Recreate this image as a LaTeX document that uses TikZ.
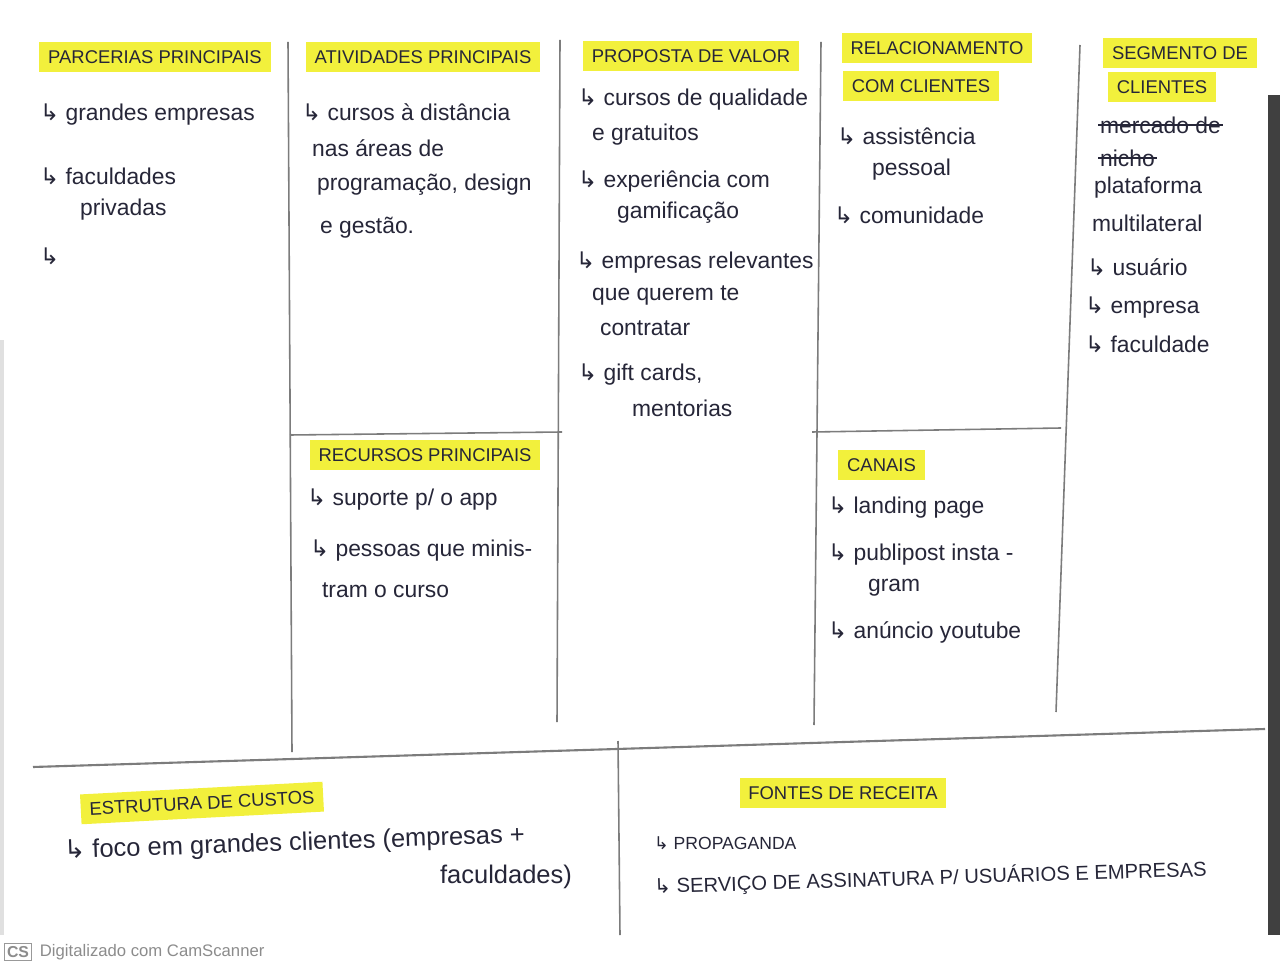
\documentclass[tikz,border=0pt]{standalone}
\usepackage{fontspec}
\setmainfont{Liberation Sans}
\newfontfamily\arrowfont{DejaVu Sans}
\usetikzlibrary{positioning}
\definecolor{marker}{HTML}{F2F03C}
\definecolor{ink}{HTML}{262638}
\definecolor{pencil}{HTML}{7C7C7C}
\newcommand\hook{{\arrowfont ↳}\ }
\begin{document}
\begin{tikzpicture}[x=0.02cm, y=-0.02cm,
		head/.style={fill=marker, text=ink, font=\fontsize{10.5}{12}\selectfont, inner xsep=5pt, minimum height=17pt},
		item/.style={anchor=west, text=ink, font=\fontsize{13}{15}\selectfont, inner sep=1pt},
		pencilLine/.style={draw=pencil, line width=0.9pt}]

		% paper and frame of the picture
		\useasboundingbox (0,0) rectangle (1280,972);
		\fill[white] (0,0) rectangle (1280,972);
		\fill[black!75] (1268,95) rectangle (1280,935);
		\fill[black!12] (0,340) rectangle (4,935);

		% create grid coordinates - columns of the canvas
		\coordinate (top1) at (288,42);  \coordinate (bot1) at (292,752);
		\coordinate (top2) at (560,40);  \coordinate (bot2) at (557,722);
		\coordinate (top3) at (821,42);  \coordinate (bot3) at (814,725);
		\coordinate (top4) at (1080,45); \coordinate (bot4) at (1056,712);

		% draw the vertical columns
		\foreach \col in {1,...,4}
		{
			\draw[pencilLine] (top\col) -- (bot\col);
		}

		% split lines for recursos and canais
		\draw[pencilLine] (290,435) -- (562,432);
		\draw[pencilLine] (812,432) -- (1061,428);

		% bottom row
		\coordinate (rowL) at (33,767);
		\coordinate (rowR) at (1265,729);
		\draw[pencilLine, line width=1.2pt] (rowL) -- (rowR);
		\draw[pencilLine] (618,741) -- (620,935);

		% headings
		\node[head] (parcerias) at (155,57) {PARCERIAS PRINCIPAIS};
		\node[head] (atividades) at (423,57) {ATIVIDADES PRINCIPAIS};
		\node[head] (proposta) at (691,56) {PROPOSTA DE VALOR};
		\node[head] (relacao) at (937,48) {RELACIONAMENTO};
		\node[head] (relacaoB) at (921,86) {COM CLIENTES};
		\node[head] (segmento) at (1180,53) {SEGMENTO DE};
		\node[head] (segmentoB) at (1162,87) {CLIENTES};
		\node[head] (recursos) at (425,455) {RECURSOS PRINCIPAIS};
		\node[head, anchor=west] (canais) at (838,465) {CANAIS\hspace{19pt}};
		\node[head, rotate=3] (custos) at (202,803) {ESTRUTURA DE CUSTOS};
		\node[head] (receita) at (843,793) {FONTES DE RECEITA};

		% parcerias principais
		\node[item] (parc1) at (38,115) {\hook grandes empresas};
		\node[item] (parc2) at (38,176) {\hook faculdades};
		\node[item] (parc2b) at (78,210) {privadas};
		\node[item] (parc3) at (38,256) {\hook};

		% atividades principais
		\node[item] (ativ1) at (300,112) {\hook cursos à distância};
		\node[item] (ativ1b) at (310,148) {nas áreas de};
		\node[item] (ativ1c) at (315,185) {programação, design};
		\node[item] (ativ1d) at (318,228) {e gestão.};

		% proposta de valor
		\node[item] (prop1) at (576,100) {\hook cursos de qualidade};
		\node[item] (prop1b) at (590,135) {e gratuitos};
		\node[item] (prop2) at (576,182) {\hook experiência com};
		\node[item] (prop2b) at (615,213) {gamificação};
		\node[item] (prop3) at (574,263) {\hook empresas relevantes};
		\node[item] (prop3b) at (590,295) {que querem te};
		\node[item] (prop3c) at (598,328) {contratar};
		\node[item] (prop4) at (576,375) {\hook gift cards,};
		\node[item] (prop4b) at (630,408) {mentorias};

		% relacionamento com clientes
		\node[item] (rel1) at (835,136) {\hook assistência};
		\node[item] (rel1b) at (870,170) {pessoal};
		\node[item] (rel2) at (832,215) {\hook comunidade};

		% segmento de clientes
		\node[item] (mercado) at (1098,125) {mercado de};
		\node[item] (nicho) at (1098,158) {nicho};
		\draw[ink, thick] (mercado.west) -- (mercado.east);
		\draw[ink, thick] (nicho.west) -- (nicho.east);
		\node[item] (seg1) at (1092,188) {plataforma};
		\node[item] (seg1b) at (1090,223) {multilateral};
		\node[item] (seg2) at (1085,267) {\hook usuário};
		\node[item] (seg3) at (1083,308) {\hook empresa};
		\node[item] (seg4) at (1083,344) {\hook faculdade};

		% recursos principais
		\node[item] (rec1) at (305,500) {\hook suporte p/ o app};
		\node[item] (rec2) at (308,551) {\hook pessoas que minis-};
		\node[item] (rec2b) at (320,590) {tram o curso};

		% canais
		\node[item] (can1) at (826,508) {\hook landing page};
		\node[item] (can2) at (826,555) {\hook publipost insta -};
		\node[item] (can2b) at (866,588) {gram};
		\node[item] (can3) at (826,632) {\hook anúncio youtube};

		% estrutura de custos
		\node[item, font=\fontsize{14.5}{16}\selectfont, rotate=2] (cus1) at (62,852) {\hook foco em grandes clientes (empresas +};
		\node[item, font=\fontsize{14.5}{16}\selectfont] (cus1b) at (438,877) {faculdades)};

		% fontes de receita
		\node[item, font=\fontsize{10}{12}\selectfont] (rec3) at (652,843) {\hook PROPAGANDA};
		\node[item, font=\fontsize{11.5}{13}\selectfont, rotate=1.8] (rec4) at (652,887) {\hook SERVIÇO DE ASSINATURA P/ USUÁRIOS E EMPRESAS};

		% scanner watermark
		\node[draw=black!40, text=black!45, font=\fontsize{9}{10}\selectfont\bfseries, inner sep=1.5pt] (csLogo) at (18,952) {CS};
		\node[right=1pt of csLogo, text=black!45, font=\fontsize{9.5}{11}\selectfont] (scanner) {Digitalizado com CamScanner};

	\end{tikzpicture}
\end{document}
